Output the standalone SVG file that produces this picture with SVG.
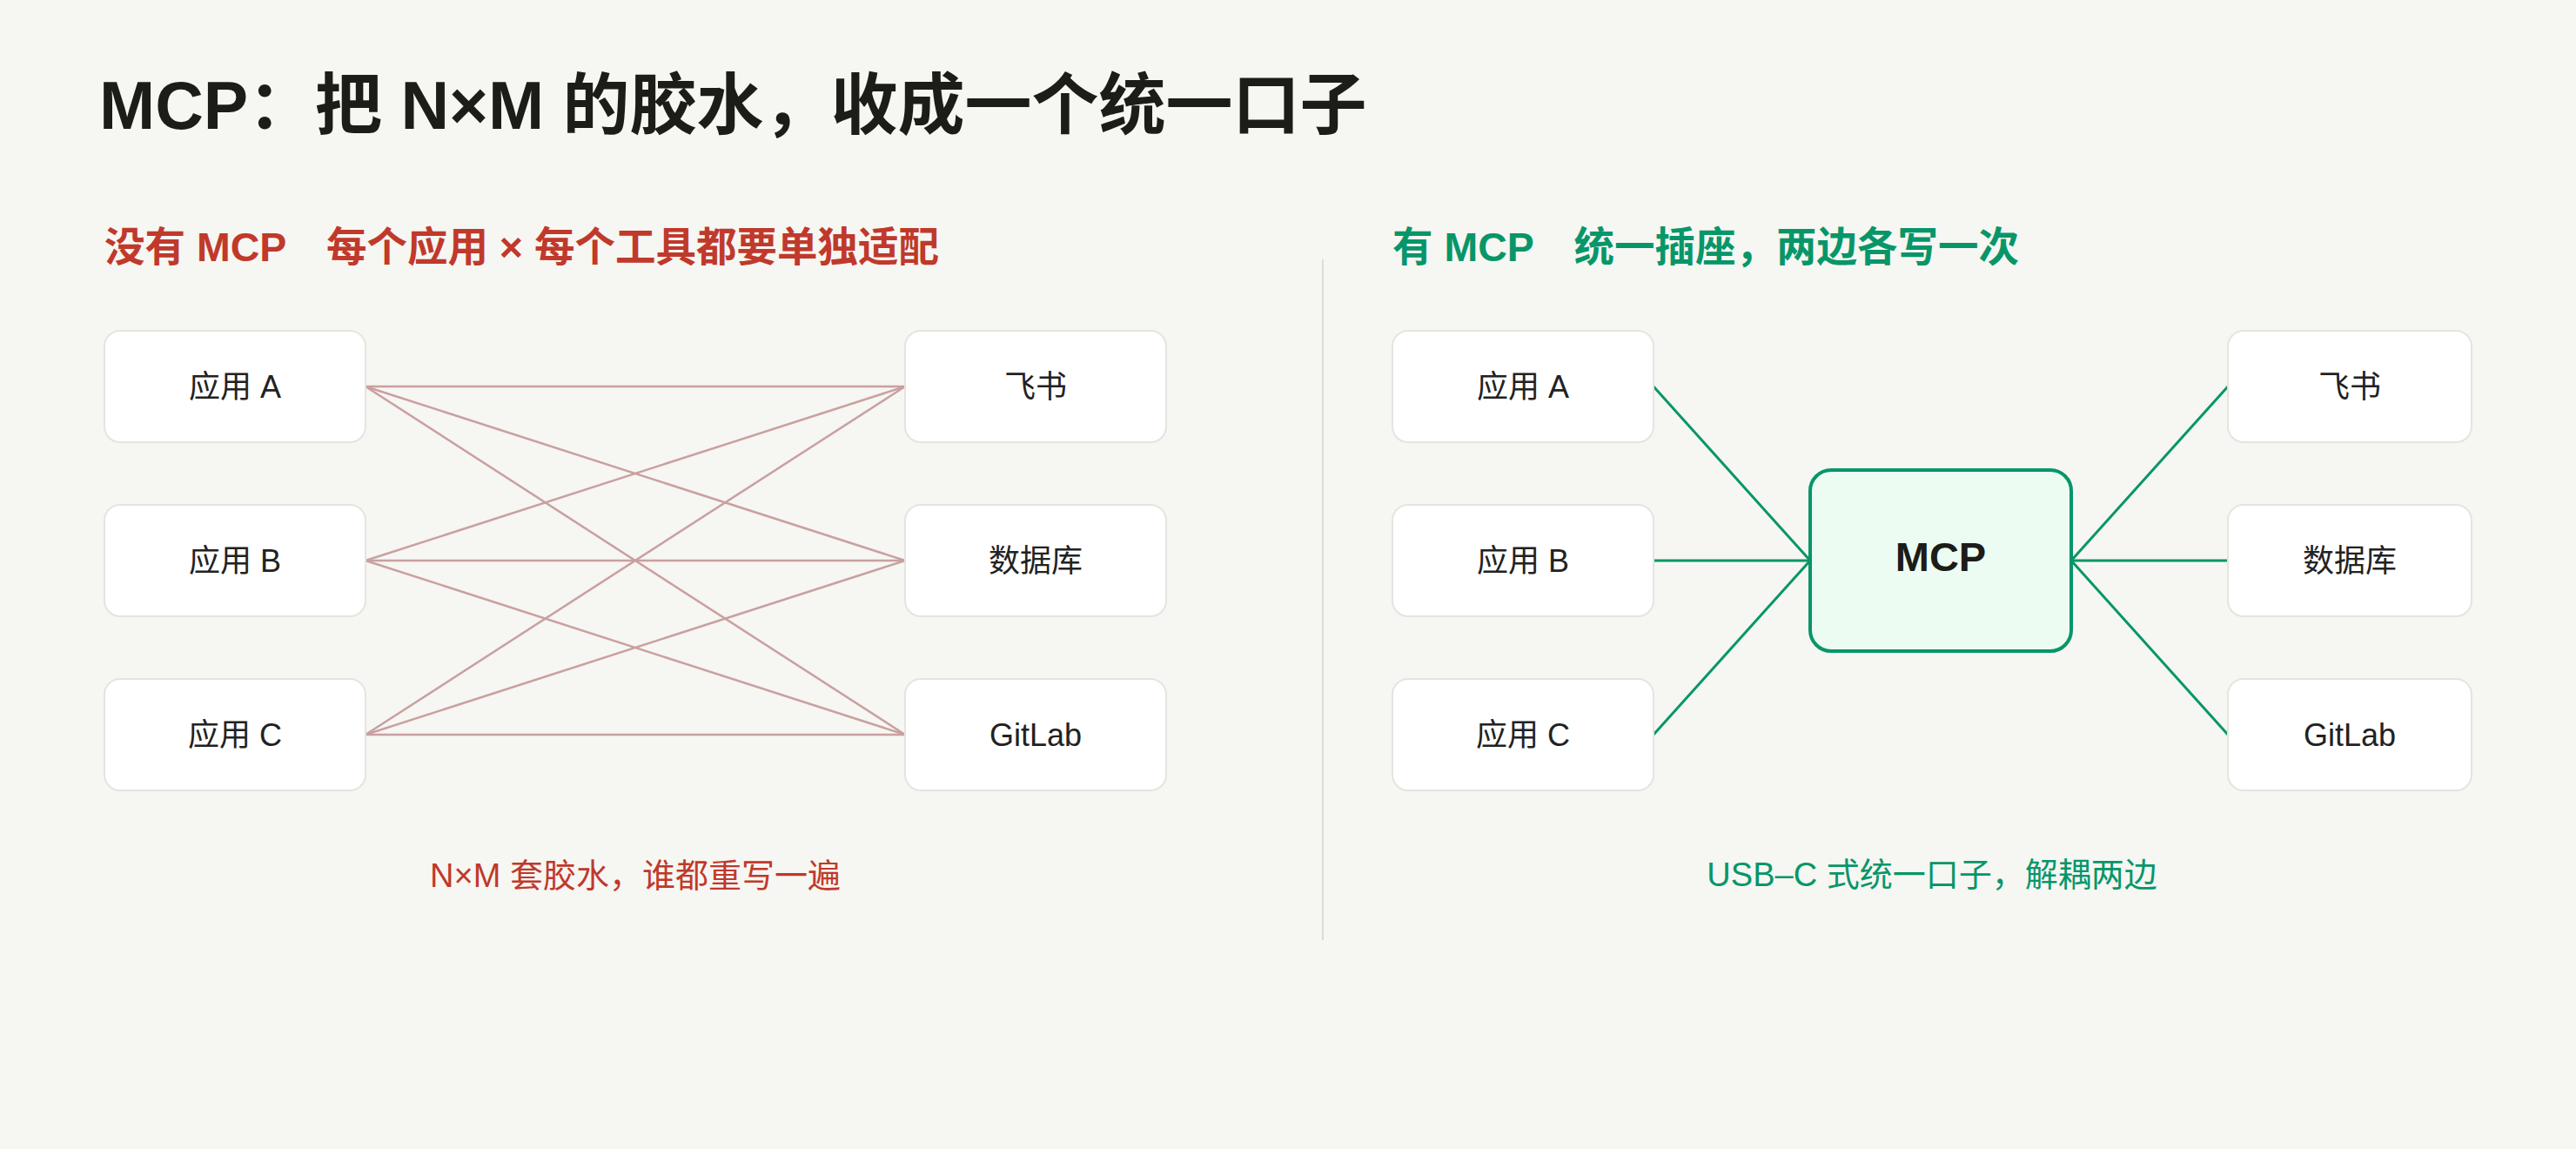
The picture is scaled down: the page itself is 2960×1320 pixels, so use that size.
<svg xmlns="http://www.w3.org/2000/svg" width="2960" height="1320" viewBox="0 0 2960 1320">
<style>
text{font-family:"Liberation Sans","Noto Sans CJK SC",sans-serif}
.title{font-size:77px;font-weight:700;fill:#1c1c18}
.sub{font-size:46.5px;font-weight:700}
.red{fill:#c0392b}
.green{fill:#079669}
.node rect{fill:#ffffff;stroke:#e6e4de;stroke-width:2}
.node text{font-size:36px;fill:#222222;text-anchor:middle}
.cap{font-size:38px;text-anchor:middle}
.mesh line{stroke:#c9a0a0;stroke-width:2.5}
.hub line{stroke:#079669;stroke-width:3}
</style>
<rect width="2960" height="1320" fill="#f6f6f2"/>
<text class="title" x="114" y="148">MCP：把 N×M 的胶水，收成一个统一口子</text>
<text class="sub red" x="120" y="300" xml:space="preserve">没有 MCP　每个应用 × 每个工具都要单独适配</text>
<text class="sub green" x="1600" y="300" xml:space="preserve">有 MCP　统一插座，两边各写一次</text>
<line x1="1520" y1="298" x2="1520" y2="1080" stroke="#dcdcd6" stroke-width="2"/>
<g id="connectors-left" class="mesh">
<line x1="420" y1="444" x2="1040" y2="444"/>
<line x1="420" y1="444" x2="1040" y2="644"/>
<line x1="420" y1="444" x2="1040" y2="844"/>
<line x1="420" y1="644" x2="1040" y2="444"/>
<line x1="420" y1="644" x2="1040" y2="644"/>
<line x1="420" y1="644" x2="1040" y2="844"/>
<line x1="420" y1="844" x2="1040" y2="444"/>
<line x1="420" y1="844" x2="1040" y2="644"/>
<line x1="420" y1="844" x2="1040" y2="844"/>
</g>
<g id="connectors-right" class="hub">
<line x1="1900" y1="444" x2="2080" y2="644"/>
<line x1="1900" y1="644" x2="2080" y2="644"/>
<line x1="1900" y1="844" x2="2080" y2="644"/>
<line x1="2380" y1="644" x2="2560" y2="444"/>
<line x1="2380" y1="644" x2="2560" y2="644"/>
<line x1="2380" y1="644" x2="2560" y2="844"/>
</g>
<g id="l-app-a" class="node"><rect x="120" y="380" width="300" height="128" rx="18"/><text x="270" y="457">应用 A</text></g>
<g id="l-app-b" class="node"><rect x="120" y="580" width="300" height="128" rx="18"/><text x="270" y="657">应用 B</text></g>
<g id="l-app-c" class="node"><rect x="120" y="780" width="300" height="128" rx="18"/><text x="270" y="857">应用 C</text></g>
<g id="l-feishu" class="node"><rect x="1040" y="380" width="300" height="128" rx="18"/><text x="1190" y="457">飞书</text></g>
<g id="l-db" class="node"><rect x="1040" y="580" width="300" height="128" rx="18"/><text x="1190" y="657">数据库</text></g>
<g id="l-gitlab" class="node"><rect x="1040" y="780" width="300" height="128" rx="18"/><text x="1190" y="857">GitLab</text></g>
<g id="r-app-a" class="node"><rect x="1600" y="380" width="300" height="128" rx="18"/><text x="1750" y="457">应用 A</text></g>
<g id="r-app-b" class="node"><rect x="1600" y="580" width="300" height="128" rx="18"/><text x="1750" y="657">应用 B</text></g>
<g id="r-app-c" class="node"><rect x="1600" y="780" width="300" height="128" rx="18"/><text x="1750" y="857">应用 C</text></g>
<g id="r-feishu" class="node"><rect x="2560" y="380" width="280" height="128" rx="18"/><text x="2700" y="457">飞书</text></g>
<g id="r-db" class="node"><rect x="2560" y="580" width="280" height="128" rx="18"/><text x="2700" y="657">数据库</text></g>
<g id="r-gitlab" class="node"><rect x="2560" y="780" width="280" height="128" rx="18"/><text x="2700" y="857">GitLab</text></g>
<g id="mcp"><rect x="2080" y="540" width="300" height="208" rx="24" fill="#ecfcf3" stroke="#079669" stroke-width="4"/><text x="2230" y="656" font-size="47" font-weight="700" fill="#1c1c18" text-anchor="middle">MCP</text></g>
<text class="cap red" x="730" y="1019">N×M 套胶水，谁都重写一遍</text>
<text class="cap green" x="2220" y="1018">USB–C 式统一口子，解耦两边</text>
</svg>
